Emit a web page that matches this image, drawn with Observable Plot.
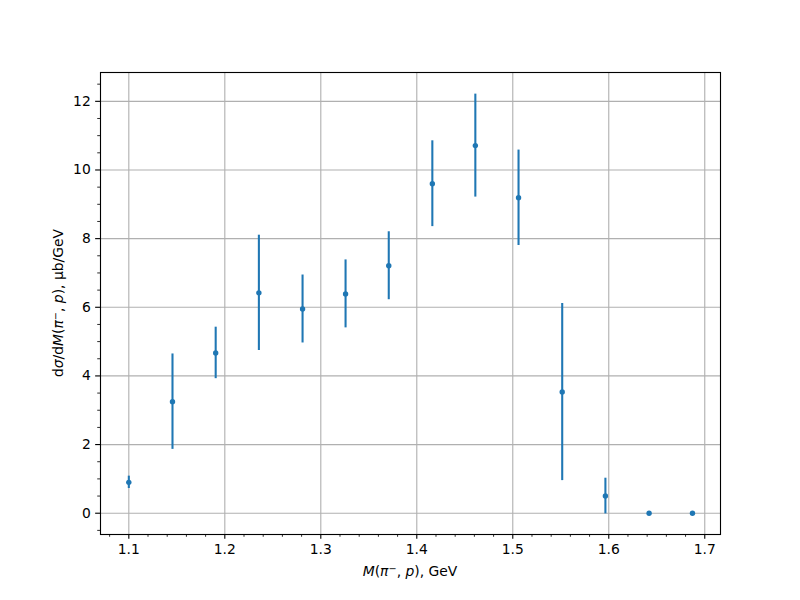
<!DOCTYPE html>
<html>
<head>
<meta charset="utf-8">
<script src="https://cdn.jsdelivr.net/npm/d3@7"></script>
<script src="https://cdn.jsdelivr.net/npm/@observablehq/plot@0.6"></script>
<style>
  html, body { margin: 0; padding: 0; background: white; }
  #chart { width: 800px; height: 600px; }
</style>
</head>
<body>
<div id="chart"></div>
<script>
// Data
const massGeV = [1.1, 1.1455, 1.1905, 1.2355, 1.281, 1.3258, 1.3708, 1.4162, 1.461, 1.506, 1.5515, 1.5965, 1.642, 1.6872];
const dsigma  = [0.90, 3.25, 4.67, 6.42, 5.95, 6.39, 7.21, 9.60, 10.71, 9.19, 3.53, 0.50, 0, 0];
const errors  = [0.18, 1.39, 0.75, 1.68, 0.99, 0.99, 0.99, 1.25, 1.50, 1.39, 2.58, 0.52, 0, 0];

const xMajor = [1.1, 1.2, 1.3, 1.4, 1.5, 1.6, 1.7];
const yMajor = [0, 2, 4, 6, 8, 10, 12];
const xMinor = d3.range(54, 86).map(i => +(i * 0.02).toFixed(2)).filter(v => !xMajor.some(m => Math.abs(m - v) < 1e-9));
const yMinor = d3.range(-1, 26).map(i => i * 0.5).filter(v => !yMajor.includes(v));

const data = massGeV.map((x, i) => ({x, y: dsigma[i], lo: dsigma[i] - errors[i], hi: dsigma[i] + errors[i]}));

const color = "#1f77b4";
const lw = 1.11;

const chart = Plot.plot({
  width: 800,
  height: 600,
  marginLeft: 100,
  marginRight: 80,
  marginTop: 72,
  marginBottom: 66,
  style: {fontFamily: "DejaVu Sans", fontSize: "13.89px", color: "black", background: "white"},
  x: {domain: [1.0705, 1.7164]},
  y: {domain: [-0.62, 12.84]},
  marks: [
    Plot.gridX(xMajor, {stroke: "#b0b0b0", strokeOpacity: 1, strokeWidth: lw}),
    Plot.gridY(yMajor, {stroke: "#b0b0b0", strokeOpacity: 1, strokeWidth: lw}),
    Plot.ruleX(data, {x: "x", y1: "lo", y2: "hi", stroke: color, strokeWidth: 2.08}),
    Plot.dot(data, {x: "x", y: "y", r: 2.7, fill: color, stroke: "none"}),
    Plot.frame({stroke: "black", strokeWidth: lw}),
    Plot.axisX(xMajor, {anchor: "bottom", tickSize: 4.86, tickPadding: 4.86, strokeWidth: lw, tickFormat: d3.format(".1f"), label: null}),
    Plot.axisX(xMinor, {anchor: "bottom", tickSize: 2.78, strokeWidth: 0.83, tickFormat: () => "", label: null}),
    Plot.axisY(yMajor, {anchor: "left", tickSize: 4.86, tickPadding: 4.86, strokeWidth: lw, tickFormat: d => String(d), label: null}),
    Plot.axisY(yMinor, {anchor: "left", tickSize: 2.78, strokeWidth: 0.83, tickFormat: () => "", label: null})
  ]
});

document.getElementById("chart").appendChild(chart);

// Axis labels with mathtext-like styling
const svg = d3.select(chart);
function addLabel(sel, parts) {
  parts.forEach(p => {
    const t = sel.append("tspan").text(p.t);
    if (p.i) t.attr("font-style", "italic");
    if (p.sup) t.attr("font-size", "0.7em").attr("dy", "-0.45em");
    if (p.after) t.attr("dy", "0.315em");
  });
}
const xl = svg.append("text")
  .attr("x", 410).attr("y", 576)
  .attr("text-anchor", "middle")
  .attr("font-family", "DejaVu Sans").attr("font-size", "13.89px").attr("fill", "black");
addLabel(xl, [
  {t: "M", i: true}, {t: "("}, {t: "π", i: true}, {t: "−", sup: true},
  {t: ", ", after: true}, {t: "p", i: true}, {t: "), GeV"}
]);

const yl = svg.append("text")
  .attr("transform", "translate(63,303) rotate(-90)")
  .attr("text-anchor", "middle")
  .attr("font-family", "DejaVu Sans").attr("font-size", "13.89px").attr("fill", "black");
addLabel(yl, [
  {t: "d"}, {t: "σ", i: true}, {t: "/d"}, {t: "M", i: true}, {t: "("}, {t: "π", i: true}, {t: "−", sup: true},
  {t: ", ", after: true}, {t: "p", i: true}, {t: "), μb/GeV"}
]);
</script>
</body>
</html>
